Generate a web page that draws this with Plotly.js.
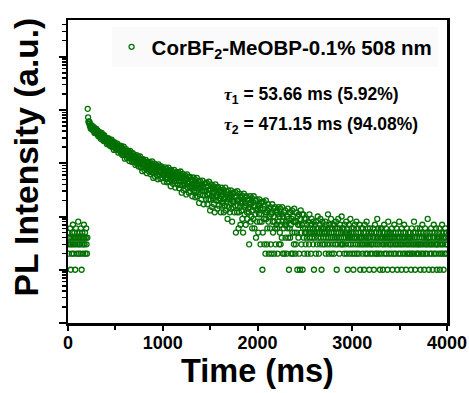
<!DOCTYPE html>
<html>
<head>
<meta charset="utf-8">
<script src="https://cdn.plot.ly/plotly-3.0.1.min.js"></script>
<style>html,body{margin:0;padding:0;background:#fff;}#chart{width:469px;height:393px;}</style>
</head>
<body>
<div id="chart"></div>
<script>
// Channel width of the decay record (ms); channel i is at time i*dt
const dt = 4;
// Photon counts per channel (0 - 4000 ms)
const counts = [
3,5,2,4,4,3,6,1,3,4, 2,5,3,7,4,2,3,5,4,1, 3,6,4,2,5,3,4,8,2,3, 4,5,3,2,6,4,1,3,5,4, 2,3,7,4,3,5,2,4,6,3, 2,4,
1050,
727,600,614,551,593,496,522,444,520,473,447,502,450,412,458,476,409,371,438,414,368,448,378,
356,392,415,357,321,386,358,333,381,309,346,284,348,373,315,294,318,340,263,299,333,274,256,303,269,
297,258,228,278,262,297,231,263,235,280,211,239,260,218,277,237,200,240,217,248,178,216,247,194,215,
211,177,219,194,234,180,205,158,215,187,173,213,183,159,193,209,166,143,191,177,148,205,159,171,122,
142,167,184,147,125,169,152,137,169,124,150,110,153,171,134,123,139,155,106,131,154,117,107,139,118,
138,113,93,128,118,142,98,120,102,133,87,106,121,94,134,108,83,111,96,118,71,97,119,84,99,
96,74,103,87,115,79,97,65,105,87,78,106,86,70,94,106,77,62,96,87,68,108,77,86,53,
67,86,98,72,56,89,77,67,91,59,78,50,82,95,69,61,74,86,51,70,87,61,54,78,63,
79,60,45,72,65,84,51,68,55,79,44,60,72,51,83,63,45,66,56,73,37,58,75,49,61,
59,41,65,52,75,46,60,35,67,53,46,68,52,40,59,68,46,34,61,54,39,70,46,53,28,
39,53,63,43,31,56,47,39,59,33,48,26,51,62,42,35,46,55,28,42,56,36,30,49,38,
50,35,24,45,39,54,29,42,31,50,23,35,45,29,53,38,24,40,32,45,18,34,47,26,36,
35,21,39,30,47,25,36,17,41,30,25,42,30,21,36,43,26,17,37,32,21,45,27,32,13,
21,32,40,24,15,35,28,22,37,17,29,12,32,40,24,20,28,35,14,25,36,20,16,31,22,
32,21,12,28,24,35,16,26,18,32,12,21,28,16,35,23,13,26,19,29,9,21,31,15,23,
22,12,25,18,31,14,23,8,27,19,15,28,19,12,23,29,16,5,24,20,12,30,16,20,6,
12,21,27,15,7,23,18,13,25,9,19,5,21,27,15,11,18,23,7,16,24,12,9,21,14,
21,12,3,18,15,24,8,17,10,22,6,13,19,9,24,15,6,16,11,20,4,13,21,8,14,
14,5,16,11,21,8,14,3,18,11,8,19,1,5,14,19,9,3,16,12,2,20,9,12,3,
6,13,17,8,2,14,10,6,15,3,11,2,12,17,8,5,10,14,2,8,15,6,3,12,7,
13,6,2,11,8,15,3,10,5,14,3,7,11,4,15,8,2,10,6,12,2,7,13,4,8,
7,2,10,6,14,4,9,1,12,6,4,12,7,2,9,13,5,2,10,8,3,14,5,8,2,
3,8,12,5,1,10,7,4,11,2,7,1,9,13,5,3,7,11,1,6,11,4,2,9,5,
6,3,9,5,4,7,2,6,8,5,3,11,4,6,5,2,7,9,4,5,6,3,8,1,5,
4,7,5,2,8,6,3,5,10,4,6,2,5,7,3,9,4,6,1,5,8,3,6,4,5,
6,3,5,8,2,4,7,5,3,6,11,4,2,5,7,3,6,4,9,5,2,6,4,3,7,
5,2,7,4,6,3,8,5,1,4,6,3,9,5,4,2,6,7,3,5,4,10,3,6,5,
3,6,4,2,7,5,3,4,8,2,5,6,1,4,3,7,5,2,4,9,3,5,6,4,2,
5,3,1,6,4,2,7,4,3,5,8,2,4,6,3,5,2,4,7,3,1,5,4,6,3,
4,2,6,3,5,1,4,7,3,2,5,4,8,3,2,6,4,3,5,1,4,6,2,3,5,
3,5,2,4,6,3,1,5,4,7,2,3,5,4,2,9,3,4,6,2,5,3,1,4,6,
2,4,6,3,5,1,4,3,7,2,5,4,3,6,2,4,5,1,3,8,4,2,5,3,4,
5,3,2,4,6,1,3,5,4,2,7,3,4,2,5,3,6,4,1,3,5,2,4,8,3,
4,2,5,3,1,6,4,3,2,5,4,7,3,2,4,5,1,3,6,2,4,3,5,2,4,
3,5,2,4,1,3,6,2,4,3,5,2,8,3,4,1,5,3,2,4,6,3,2,5,3,
2,4,3,6,1,5,3,2,4,7,3,2,5,4,1,3,6,2,4,3,5,2,3,9,4,
4,1,3,5,2,4,3,6,2,3,5,1,4,3,7,2,4,5,3,2,6,3,1,4,3,
3,5,2,4,6,1,3,4,2,5,3,7,2,4,3,1,5,4,2,6,3,4,2,5,3
];
const time = counts.map((_, i) => i * dt);

const seriesName = 'CorBF<sub>2</sub>-MeOBP-0.1% 508 nm';
const tauLines = [
  '<span style="font-family:Liberation Serif"><i>τ</i></span><sub>1</sub> = 53.66 ms (5.92%)',
  '<span style="font-family:Liberation Serif"><i>τ</i></span><sub>2</sub> = 471.15 ms (94.08%)'
];
const xTitle = 'Time (ms)';
const yTitle = 'PL Intensity (a.u.)';

const FONT = 'Liberation Sans, Arial, sans-serif';
const GREEN = '#037003';

const trace = {
  x: time, y: counts, type: 'scatter', mode: 'markers', name: seriesName,
  marker: {symbol: 'circle-open', size: 5, color: GREEN, line: {width: 1.3, color: GREEN}},
  showlegend: true
};

const layout = {
  width: 469, height: 393,
  margin: {l: 68, r: 22, t: 20, b: 70},
  paper_bgcolor: '#ffffff', plot_bgcolor: '#ffffff',
  font: {family: FONT, color: '#000', weight: 'bold'},
  showlegend: true,
  legend: {x: 0.115, y: 0.977, xanchor: 'left', yanchor: 'top', bgcolor: '#fafafa',
           font: {family: FONT, size: 20.5, weight: 'bold', color: '#000'}, itemwidth: 30},
  xaxis: {
    range: [0, 4000], tickmode: 'linear', tick0: 0, dtick: 1000,
    ticks: 'outside', ticklen: 5, tickwidth: 2, tickcolor: '#000', ticklabelstandoff: -3,
    minor: {tick0: 0, dtick: 500, ticks: 'outside', ticklen: 4, tickwidth: 2, tickcolor: '#000'},
    showline: true, linewidth: 2.5, linecolor: '#000', mirror: true,
    showgrid: false, zeroline: false,
    tickfont: {family: FONT, size: 18, weight: 'bold'},
    title: {text: xTitle, font: {family: FONT, size: 32.5, weight: 'bold'}, standoff: 5}
  },
  yaxis: {
    type: 'log', range: [-1, 4.69], dtick: 1,
    ticks: 'outside', ticklen: 7, tickwidth: 2, tickcolor: '#000',
    minor: {dtick: 'D1', ticks: 'outside', ticklen: 4, tickwidth: 1.5, tickcolor: '#000'},
    showticklabels: false,
    showline: true, linewidth: 2.5, linecolor: '#000', mirror: true,
    showgrid: false, zeroline: false
  },
  annotations: [
    {xref: 'paper', yref: 'paper', x: -0.107, y: 0.548, xanchor: 'center', yanchor: 'middle',
     textangle: -90, showarrow: false, text: yTitle,
     font: {family: FONT, size: 33.5, weight: 'bold', color: '#000'}},
    {xref: 'paper', yref: 'paper', x: 0.406, y: 0.752, xanchor: 'left', yanchor: 'middle',
     showarrow: false, text: tauLines[0], font: {family: FONT, size: 17.5, weight: 'bold', color: '#000'}},
    {xref: 'paper', yref: 'paper', x: 0.406, y: 0.653, xanchor: 'left', yanchor: 'middle',
     showarrow: false, text: tauLines[1], font: {family: FONT, size: 17.5, weight: 'bold', color: '#000'}}
  ]
};

Plotly.newPlot('chart', [trace], layout, {displayModeBar: false, staticPlot: true});
</script>
</body>
</html>
